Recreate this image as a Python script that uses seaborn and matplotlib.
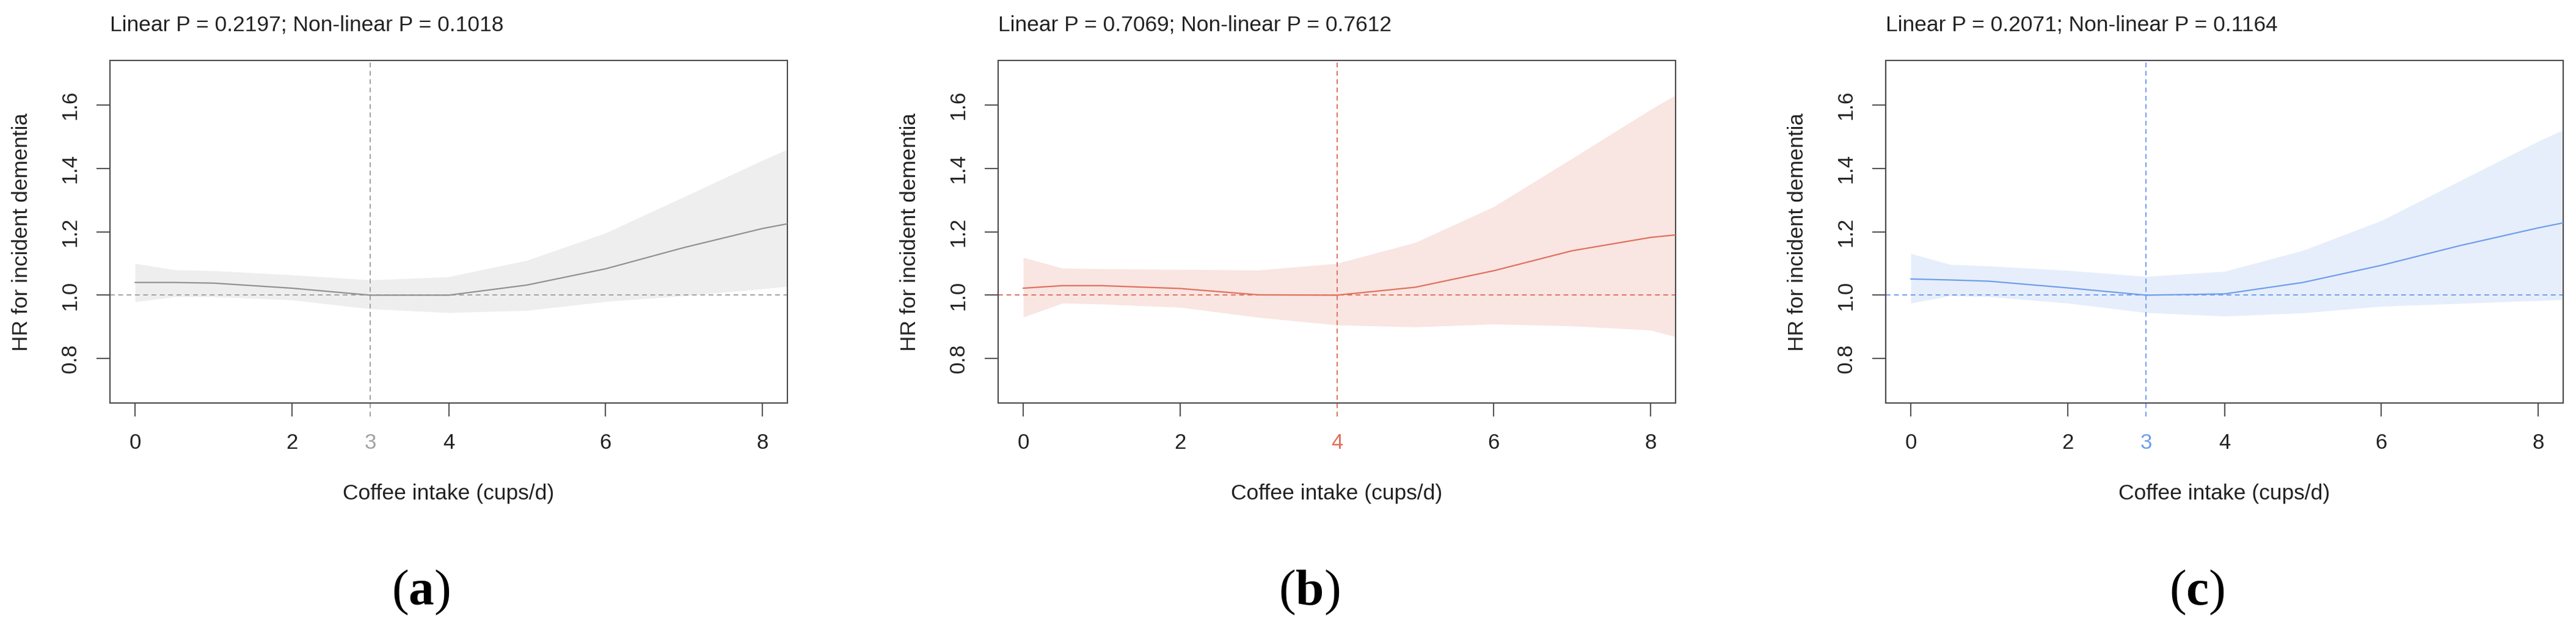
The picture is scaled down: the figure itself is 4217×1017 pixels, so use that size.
import matplotlib
matplotlib.use("Agg")
import matplotlib.pyplot as plt
import numpy as np
import pandas as pd
import seaborn as sns

# cups/d grid
INTAKE = [0, 0.5, 1, 2, 3, 4, 5, 6, 7, 8, 8.32]

HR_A = [1.040, 1.040, 1.038, 1.022, 1.000, 1.000, 1.032, 1.083, 1.150, 1.210, 1.225]
UP_A = [1.100, 1.080, 1.077, 1.064, 1.048, 1.058, 1.110, 1.196, 1.310, 1.425, 1.460]
LO_A = [0.979, 0.995, 0.995, 0.985, 0.957, 0.945, 0.952, 0.980, 0.998, 1.020, 1.028]

HR_B = [1.022, 1.030, 1.030, 1.021, 1.001, 1.000, 1.025, 1.077, 1.140, 1.182, 1.190]
UP_B = [1.119, 1.085, 1.083, 1.081, 1.079, 1.100, 1.166, 1.279, 1.431, 1.585, 1.631]
LO_B = [0.931, 0.975, 0.972, 0.962, 0.930, 0.906, 0.900, 0.909, 0.903, 0.890, 0.869]

HR_C = [1.051, 1.048, 1.044, 1.023, 1.000, 1.004, 1.040, 1.094, 1.156, 1.212, 1.228]
UP_C = [1.131, 1.097, 1.092, 1.078, 1.059, 1.075, 1.141, 1.235, 1.360, 1.485, 1.521]
LO_C = [0.975, 0.998, 0.995, 0.975, 0.945, 0.934, 0.944, 0.965, 0.974, 0.983, 0.986]

P_TEXTS = [
    "Linear P = 0.2197; Non-linear P = 0.1018",
    "Linear P = 0.7069; Non-linear P = 0.7612",
    "Linear P = 0.2071; Non-linear P = 0.1164",
]
REF_INTAKE = [3, 4, 3]
PANEL_TAGS = ["a", "b", "c"]

BASE_TICKS = [0, 2, 4, 6, 8]
Y_TICKS = [0.8, 1.0, 1.2, 1.4, 1.6]

LINE_COLORS = ["#8e9390", "#e0705e", "#6f9ded"]
FILL_COLORS = ["#eeeeee", "#f9e5e1", "#e6eefb"]
REF_COLORS = ["#a2a2a2", "#e0705e", "#6f9ded"]

sns.set_style("white")
plt.rcParams["font.family"] = ["Liberation Sans", "DejaVu Sans"]
plt.rcParams["mathtext.fontset"] = "custom"
plt.rcParams["mathtext.rm"] = "Liberation Serif"
plt.rcParams["mathtext.bf"] = "Liberation Serif:bold"

W, H = 4217, 1017
fig = plt.figure(figsize=(W / 100, H / 100), dpi=100)

AX_LEFTS = [180, 1634, 3087]
AX_W, AX_TOP, AX_BOTTOM = 1109, 99, 660
SPINE = "#4a4a4a"
TXT = 25.5


def draw_panel(ax, hr, up, lo, i):
    df = pd.DataFrame({"intake": INTAKE, "hr": hr, "up": up, "lo": lo})
    ax.fill_between(df["intake"], df["lo"], df["up"], color=FILL_COLORS[i], lw=0, zorder=1)
    sns.lineplot(data=df, x="intake", y="hr", ax=ax, color=LINE_COLORS[i], lw=1.6, zorder=3)

    ref = REF_INTAKE[i]
    ax.axhline(1.0, color=REF_COLORS[i], lw=1.4, ls=(0, (4, 3)), zorder=2)
    ax.axvline(ref, ymin=-0.039, ymax=1, color=REF_COLORS[i], lw=1.4,
               ls=(0, (4, 3)), zorder=2, clip_on=False)

    ax.set_xlim(-0.32, 8.32)
    ax.set_ylim(0.66, 1.74)

    ticks = sorted(set(BASE_TICKS + [ref]))
    ax.set_xticks(ticks)
    ax.set_xticklabels([str(t) for t in ticks])
    ax.set_yticks(Y_TICKS)
    ax.set_yticklabels([f"{v:.1f}" for v in Y_TICKS], rotation=90, va="center")

    ax.tick_params(axis="both", direction="out", length=16, width=1.5,
                   color="#555555", labelsize=25, labelcolor="#222222", pad=19,
                   bottom=True, left=True)
    for t, tick in zip(ticks, ax.xaxis.get_major_ticks()):
        if t == ref:
            tick.tick1line.set_visible(False)
            tick.label1.set_color(REF_COLORS[i])

    for s in ax.spines.values():
        s.set_color(SPINE)
        s.set_linewidth(1.5)
        s.set_visible(True)

    ax.set_xlabel("Coffee intake (cups/d)", fontsize=TXT, color="#222222")
    ax.set_ylabel("HR for incident dementia", fontsize=TXT, color="#222222")
    ax.xaxis.set_label_coords(0.5, -0.264)
    ax.xaxis.label.set_va("center")
    ax.yaxis.set_label_coords(-0.130, 0.5)
    ax.yaxis.label.set_va("center")

    ax.text(0.0, 1.087, P_TEXTS[i], transform=ax.transAxes, fontsize=TXT,
            color="#222222", ha="left", va="baseline")
    ax.text(0.459, -0.553, r"$\mathrm{(}\mathbf{" + PANEL_TAGS[i] + r"}\mathrm{)}$",
            transform=ax.transAxes, fontsize=60, color="black",
            ha="center", va="center")


series = [(HR_A, UP_A, LO_A), (HR_B, UP_B, LO_B), (HR_C, UP_C, LO_C)]
for i, (hr, up, lo) in enumerate(series):
    left = AX_LEFTS[i] / W
    bottom = 1 - AX_BOTTOM / H
    ax = fig.add_axes([left, bottom, AX_W / W, (AX_BOTTOM - AX_TOP) / H])
    draw_panel(ax, hr, up, lo, i)

fig.savefig("out.png", dpi=100, facecolor="white")
